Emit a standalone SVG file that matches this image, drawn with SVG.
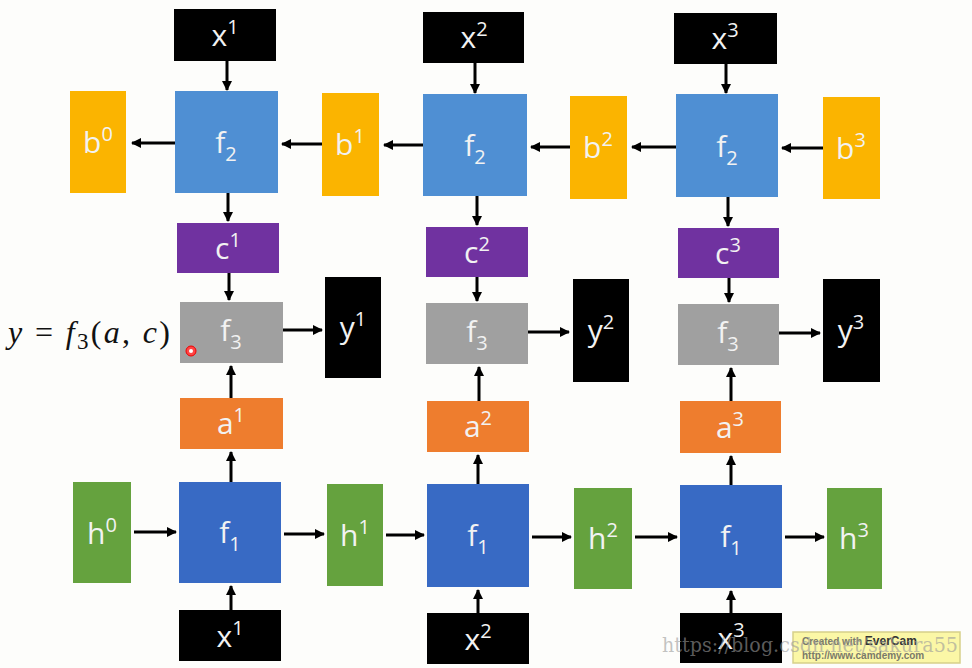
<svg xmlns="http://www.w3.org/2000/svg" width="972" height="668" viewBox="0 0 972 668">
<defs>
<marker id="ah" markerWidth="10" markerHeight="10" refX="9" refY="5" orient="auto" markerUnits="userSpaceOnUse">
<path d="M0,0 L10,5 L0,10 z" fill="#000"/>
</marker>
<style>
.lbl{font-family:"Open Sans","Noto Sans","Liberation Sans",sans-serif;font-size:30px;fill:#f2f2f2;text-anchor:middle}
.sup{font-size:20px}
.blk{fill:#000}
.f2{fill:#4f8fd3}
.f1{fill:#386ac4}
.b{fill:#fbb400}
.c{fill:#7032a0}
.f3{fill:#a0a0a0}
.a{fill:#ee7d2e}
.h{fill:#65a23e}
.conn line{stroke:#000;stroke-width:3;marker-end:url(#ah)}
</style>
</defs>
<rect width="972" height="668" fill="#fdfdfb"/>

<!-- top x -->
<g id="xt1"><rect class="blk" x="174" y="9" width="102" height="52"/><text class="lbl" x="225" y="46">x<tspan class="sup" dy="-12">1</tspan></text></g>
<g id="xt2"><rect class="blk" x="423" y="12" width="101" height="51"/><text class="lbl" x="474" y="48">x<tspan class="sup" dy="-12">2</tspan></text></g>
<g id="xt3"><rect class="blk" x="674" y="13" width="103" height="51"/><text class="lbl" x="725" y="49">x<tspan class="sup" dy="-12">3</tspan></text></g>

<!-- b nodes -->
<g id="b0"><rect class="b" x="70" y="91" width="56" height="102"/><text class="lbl" x="98" y="153">b<tspan class="sup" dy="-12">0</tspan></text></g>
<g id="b1"><rect class="b" x="322" y="93" width="57" height="103"/><text class="lbl" x="350" y="155">b<tspan class="sup" dy="-12">1</tspan></text></g>
<g id="b2"><rect class="b" x="570" y="96" width="57" height="103"/><text class="lbl" x="598" y="158">b<tspan class="sup" dy="-12">2</tspan></text></g>
<g id="b3"><rect class="b" x="823" y="97" width="57" height="102"/><text class="lbl" x="851" y="159">b<tspan class="sup" dy="-12">3</tspan></text></g>

<!-- f2 -->
<g id="f2a"><rect class="f2" x="175" y="91" width="103" height="102"/><text class="lbl" x="226" y="153">f<tspan class="sup" dy="8">2</tspan></text></g>
<g id="f2b"><rect class="f2" x="423" y="94" width="104" height="102"/><text class="lbl" x="475" y="156">f<tspan class="sup" dy="8">2</tspan></text></g>
<g id="f2c"><rect class="f2" x="676" y="94" width="102" height="103"/><text class="lbl" x="727" y="157">f<tspan class="sup" dy="8">2</tspan></text></g>

<!-- c -->
<g id="c1"><rect class="c" x="177" y="223" width="102" height="50"/><text class="lbl" x="228" y="259">c<tspan class="sup" dy="-12">1</tspan></text></g>
<g id="c2"><rect class="c" x="426" y="227" width="102" height="50"/><text class="lbl" x="477" y="263">c<tspan class="sup" dy="-12">2</tspan></text></g>
<g id="c3"><rect class="c" x="678" y="228" width="101" height="50"/><text class="lbl" x="728" y="264">c<tspan class="sup" dy="-12">3</tspan></text></g>

<!-- f3 -->
<g id="f3a"><rect class="f3" x="180" y="302" width="103" height="61"/><text class="lbl" x="231" y="341">f<tspan class="sup" dy="8">3</tspan></text></g>
<g id="f3b"><rect class="f3" x="426" y="303" width="102" height="61"/><text class="lbl" x="477" y="342">f<tspan class="sup" dy="8">3</tspan></text></g>
<g id="f3c"><rect class="f3" x="678" y="304" width="101" height="61"/><text class="lbl" x="728" y="343">f<tspan class="sup" dy="8">3</tspan></text></g>

<!-- y -->
<g id="y1"><rect class="blk" x="325" y="277" width="56" height="101"/><text class="lbl" x="353" y="338">y<tspan class="sup" dy="-12">1</tspan></text></g>
<g id="y2"><rect class="blk" x="573" y="279" width="56" height="103"/><text class="lbl" x="601" y="341">y<tspan class="sup" dy="-12">2</tspan></text></g>
<g id="y3"><rect class="blk" x="823" y="279" width="57" height="103"/><text class="lbl" x="851" y="341">y<tspan class="sup" dy="-12">3</tspan></text></g>

<!-- a -->
<g id="a1"><rect class="a" x="180" y="398" width="103" height="51"/><text class="lbl" x="231" y="434">a<tspan class="sup" dy="-12">1</tspan></text></g>
<g id="a2"><rect class="a" x="427" y="401" width="102" height="51"/><text class="lbl" x="478" y="437">a<tspan class="sup" dy="-12">2</tspan></text></g>
<g id="a3"><rect class="a" x="680" y="401" width="101" height="52"/><text class="lbl" x="730" y="438">a<tspan class="sup" dy="-12">3</tspan></text></g>

<!-- f1 -->
<g id="f1a"><rect class="f1" x="179" y="482" width="102" height="101"/><text class="lbl" x="230" y="543">f<tspan class="sup" dy="8">1</tspan></text></g>
<g id="f1b"><rect class="f1" x="427" y="484" width="102" height="103"/><text class="lbl" x="478" y="546">f<tspan class="sup" dy="8">1</tspan></text></g>
<g id="f1c"><rect class="f1" x="680" y="485" width="102" height="103"/><text class="lbl" x="731" y="547">f<tspan class="sup" dy="8">1</tspan></text></g>

<!-- h -->
<g id="h0"><rect class="h" x="73" y="482" width="58" height="101"/><text class="lbl" x="102" y="544">h<tspan class="sup" dy="-12">0</tspan></text></g>
<g id="h1"><rect class="h" x="327" y="484" width="56" height="102"/><text class="lbl" x="355" y="546">h<tspan class="sup" dy="-12">1</tspan></text></g>
<g id="h2"><rect class="h" x="574" y="488" width="58" height="101"/><text class="lbl" x="603" y="549">h<tspan class="sup" dy="-12">2</tspan></text></g>
<g id="h3"><rect class="h" x="827" y="488" width="55" height="101"/><text class="lbl" x="854" y="549">h<tspan class="sup" dy="-12">3</tspan></text></g>

<!-- bottom x -->
<g id="xb1"><rect class="blk" x="179" y="610" width="102" height="51"/><text class="lbl" x="230" y="647">x<tspan class="sup" dy="-12">1</tspan></text></g>
<g id="xb2"><rect class="blk" x="427" y="613" width="102" height="51"/><text class="lbl" x="478" y="650">x<tspan class="sup" dy="-12">2</tspan></text></g>
<g id="xb3"><rect class="blk" x="680" y="613" width="102" height="50"/><text class="lbl" x="731" y="649">x<tspan class="sup" dy="-12">3</tspan></text></g>

<g class="conn">
<line x1="227" y1="61" x2="227" y2="90"/>
<line x1="475" y1="63" x2="475" y2="93"/>
<line x1="726" y1="64" x2="726" y2="93"/>
<line x1="175" y1="143" x2="132" y2="143"/>
<line x1="322" y1="144" x2="282" y2="144"/>
<line x1="423" y1="145" x2="384" y2="145"/>
<line x1="570" y1="147" x2="531" y2="147"/>
<line x1="676" y1="147" x2="632" y2="147"/>
<line x1="823" y1="148" x2="782" y2="148"/>
<line x1="228" y1="193" x2="228" y2="221"/>
<line x1="477" y1="196" x2="477" y2="225"/>
<line x1="728" y1="197" x2="728" y2="226"/>
<line x1="229" y1="273" x2="229" y2="300"/>
<line x1="477" y1="277" x2="477" y2="301"/>
<line x1="729" y1="278" x2="729" y2="302"/>
<line x1="283" y1="330" x2="322" y2="330"/>
<line x1="528" y1="332" x2="569" y2="332"/>
<line x1="779" y1="333" x2="820" y2="333"/>
<line x1="231" y1="398" x2="231" y2="366"/>
<line x1="479" y1="401" x2="479" y2="367"/>
<line x1="731" y1="401" x2="731" y2="368"/>
<line x1="231" y1="482" x2="231" y2="452"/>
<line x1="478" y1="484" x2="478" y2="455"/>
<line x1="731" y1="485" x2="731" y2="456"/>
<line x1="231" y1="610" x2="231" y2="586"/>
<line x1="478" y1="613" x2="478" y2="590"/>
<line x1="731" y1="613" x2="731" y2="591"/>
<line x1="134" y1="532" x2="176" y2="532"/>
<line x1="284" y1="534" x2="324" y2="534"/>
<line x1="386" y1="535" x2="424" y2="535"/>
<line x1="532" y1="537" x2="571" y2="537"/>
<line x1="635" y1="537" x2="677" y2="537"/>
<line x1="785" y1="537" x2="824" y2="537"/>
</g>

<text x="8" y="343" font-family="'Liberation Serif',serif" font-size="32" fill="#111" textLength="162" lengthAdjust="spacing"><tspan font-style="italic">y</tspan> = <tspan font-style="italic">f</tspan><tspan font-size="23" dy="6">3</tspan><tspan dy="-6">(</tspan><tspan font-style="italic">a</tspan>, <tspan font-style="italic">c</tspan>)</text>

<circle cx="191" cy="351" r="5" fill="#f44" stroke="#e00" stroke-width="1"/>
<circle cx="191" cy="351" r="2" fill="#fff"/>

<rect x="793" y="632" width="167" height="31" fill="#fbf7a6" stroke="#d6d08a" stroke-width="1.5"/>
<text x="802" y="645" font-family="'Liberation Sans',sans-serif" font-size="10" font-weight="bold" fill="#7a7a6a">Created with <tspan font-size="12" fill="#333">EverCam</tspan></text>
<text x="802" y="659" font-family="'Liberation Sans',sans-serif" font-size="10" font-weight="bold" fill="#7a7a6a">http://www.camdemy.com</text>
<text x="662" y="652" font-family="'DejaVu Serif',serif" font-size="20" fill="#9a9a9a" fill-opacity="0.6" textLength="296" lengthAdjust="spacingAndGlyphs">https://blog.csdn.net/sakura55</text>
</svg>
